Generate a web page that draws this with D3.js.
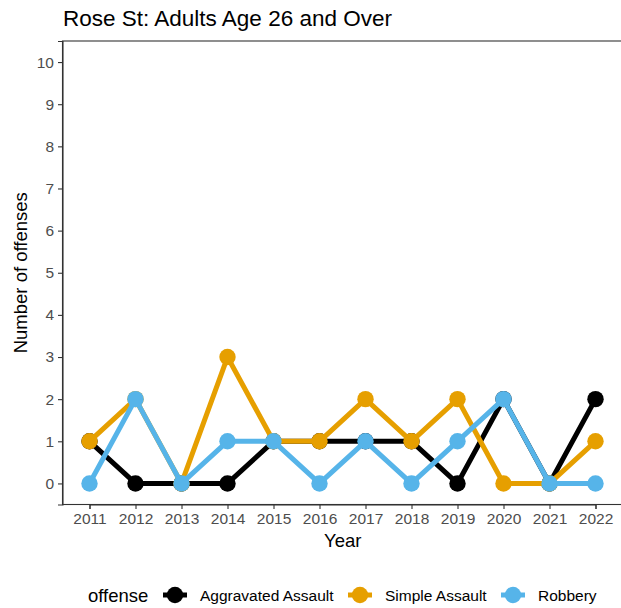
<!DOCTYPE html>
<html><head><meta charset="utf-8">
<script src="https://cdn.jsdelivr.net/npm/d3@7"></script>
<style>body{margin:0;background:#fff}svg{display:block;font-family:"Liberation Sans",Arial,sans-serif}</style>
</head><body>
<script>
const years = [2011,2012,2013,2014,2015,2016,2017,2018,2019,2020,2021,2022];
const aggravatedAssault = [1,0,0,0,1,1,1,1,0,2,0,2];
const simpleAssault = [1,2,0,3,1,1,2,1,2,0,0,1];
const robbery = [0,2,0,1,1,0,1,0,1,2,0,0];
const seriesNames = ["Aggravated Assault","Simple Assault","Robbery"];
const seriesColors = ["#000000","#E69F00","#56B4E9"];
const yTicks = [0,1,2,3,4,5,6,7,8,9,10];
const series = [aggravatedAssault, simpleAssault, robbery].map((v,i)=>({name:seriesNames[i], color:seriesColors[i], values:v}));

(function(){
const W=621,H=608;
const svg=d3.select("body").append("svg").attr("width",W).attr("height",H);
const pL=62.5, pT=41, pB=504.5;
const x=d3.scalePoint().domain(years).range([89.5,595.5]);
const y=d3.scaleLinear().domain([-0.5,10.5]).range([pB,pT]);

svg.append("rect").attr("x",pL).attr("y",pT).attr("width",620-pL+10).attr("height",pB-pT)
  .attr("fill","none").attr("stroke","#333").attr("stroke-width",1.1);

const xa=svg.append("g").attr("transform",`translate(0,${pB})`)
  .call(d3.axisBottom(x).tickSize(4.5).tickPadding(4).tickFormat(d3.format("d")));
const ya=svg.append("g").attr("transform",`translate(${pL},0)`)
  .call(d3.axisLeft(y).tickValues(yTicks).tickSize(4.5).tickPadding(4));
[xa,ya].forEach(a=>{
  a.select(".domain").attr("stroke","#333").attr("stroke-width",1.1);
  a.selectAll(".tick line").attr("stroke","#333").attr("stroke-width",1.1);
  a.selectAll(".tick text").attr("fill","#4d4d4d").attr("font-size","15.5px").attr("font-family","Liberation Sans, Arial, sans-serif");
});

const line=d3.line().x((d,i)=>x(years[i])).y(d=>y(d));
series.forEach(s=>{
  svg.append("path").attr("d",line(s.values)).attr("fill","none").attr("stroke",s.color)
    .attr("stroke-width",5).attr("stroke-linejoin","round");
  svg.append("g").selectAll("circle").data(s.values).join("circle")
    .attr("cx",(d,i)=>x(years[i])).attr("cy",d=>y(d)).attr("r",8.2).attr("fill",s.color);
});

svg.append("text").attr("x",63).attr("y",26).attr("font-size","22.5px").attr("fill","#000")
  .text("Rose St: Adults Age 26 and Over");
svg.append("text").attr("x",(pL+621)/2+1).attr("y",547).attr("text-anchor","middle")
  .attr("font-size","18.5px").text("Year");
svg.append("text").attr("transform",`translate(27,${(pT+pB)/2}) rotate(-90)`).attr("text-anchor","middle")
  .attr("font-size","18.5px").text("Number of offenses");

const lg=svg.append("g");
lg.append("text").attr("x",88).attr("y",601.5).attr("font-size","18.5px").text("offense");
const keyX=[175,360,513], labX=[200,385,538];
series.forEach((s,i)=>{
  lg.append("line").attr("x1",keyX[i]-12).attr("x2",keyX[i]+12).attr("y1",595).attr("y2",595)
    .attr("stroke",s.color).attr("stroke-width",5);
  lg.append("circle").attr("cx",keyX[i]).attr("cy",595).attr("r",8.2).attr("fill",s.color);
  lg.append("text").attr("x",labX[i]).attr("y",600.5).attr("font-size","15.5px").text(s.name);
});
})();
</script>
</body></html>
